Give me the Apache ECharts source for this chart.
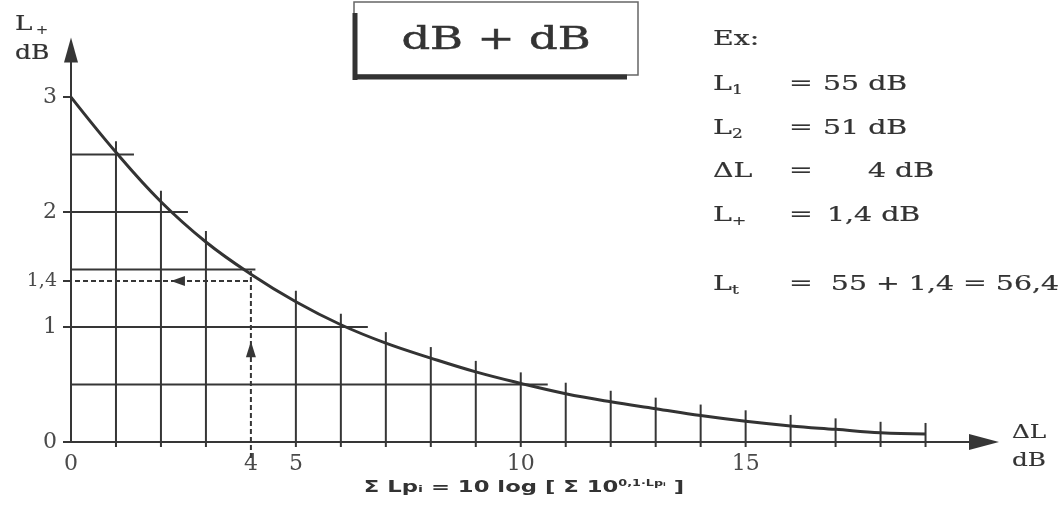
<!DOCTYPE html>
<html><head><meta charset="utf-8">
<script src="https://cdn.jsdelivr.net/npm/echarts@6/dist/echarts.min.js"></script>
<style>html,body{margin:0;padding:0;background:#fff}#c{width:1058px;height:528px}</style>
</head><body><div id="c"></div>
<script>
// ---- data ----
const deltaL = [0,1,2,3,4,5,6,7,8,9,10,11,12,13,14,15,16,17,18,19];
const lPlus  = [3.00,2.52,2.09,1.74,1.46,1.22,1.02,0.86,0.73,0.61,0.51,0.42,0.35,0.29,0.23,0.18,0.14,0.11,0.08,0.07];
const xTickValues = [0,4,5,10,15];
const yTickValues = [0,1,1.4,2,3];
const hGridLevels = [0.5,1,1.5,2,2.5];
const hGridEnds   = [10.6,6.6,4.1,2.6,1.4];
const exL1 = 55;
const exL2 = 51;
const exDeltaL = 4;
const exLPlus = 1.4;

// ---- styling ----
const INK = '#363636';
const TXT = '#333';
const SERIF = "'DejaVu Serif', serif";
const fmt = v => String(v).replace('.', ',');

const chart = echarts.init(document.getElementById('c'));

const curveData = deltaL.map((x, i) => [x, lPlus[i]]);
const vGridData = curveData.filter(d => d[0] > 0 && d[0] !== exDeltaL);
const hGridData = hGridLevels.map((y, i) => [hGridEnds[i], y]);

function vRender(params, api) {
  const x = api.value(0), y = api.value(1);
  const p0 = api.coord([x, 0]), p1 = api.coord([x, y]);
  return {type: 'line', shape: {x1: p0[0], y1: p0[1] + 5, x2: p1[0], y2: p1[1] - 11},
    style: {stroke: INK, lineWidth: 2}};
}
function hRender(params, api) {
  const xe = api.value(0), y = api.value(1);
  const p0 = api.coord([0, y]), p1 = api.coord([xe, y]);
  return {type: 'line', shape: {x1: p0[0], y1: p0[1], x2: p1[0], y2: p1[1]},
    style: {stroke: INK, lineWidth: 2}};
}
function exRender(params, api) {
  const x = api.value(0), y = api.value(1);
  const o = api.coord([0, 0]);
  const p = api.coord([x, y]);
  const ax = o[0] + (p[0] - o[0]) * 0.6;   // left arrow on horizontal dashed line
  const ay = o[1] + (p[1] - o[1]) * 0.57;  // up arrow on vertical dashed line
  const dash = {stroke: INK, lineWidth: 2, lineDash: [5, 3]};
  return {type: 'group', children: [
    {type: 'line', shape: {x1: o[0] - 4, y1: p[1], x2: p[0], y2: p[1]}, style: dash},
    {type: 'line', shape: {x1: p[0], y1: o[1] + 16, x2: p[0], y2: p[1] - 10}, style: dash},
    {type: 'polygon', shape: {points: [[ax - 8, p[1]], [ax + 6, p[1] - 5], [ax + 6, p[1] + 5]]}, style: {fill: INK}},
    {type: 'polygon', shape: {points: [[p[0], ay - 9], [p[0] - 5, ay + 7], [p[0] + 5, ay + 7]]}, style: {fill: INK}}
  ]};
}

function T(x, y, text, size, opts) {
  opts = opts || {};
  return {type: 'text', x: x, y: y, scaleX: opts.sx || 1.42, z: 100,
    style: {text: text, font: (opts.bold ? 'bold ' : '') + size + 'px ' + (opts.family || SERIF),
      fill: opts.fill || TXT, textAlign: opts.align || 'left', textVerticalAlign: 'middle',
      align: opts.align || 'left', verticalAlign: 'middle',
      stroke: opts.fill || TXT, lineWidth: opts.lw == null ? 0.2 : opts.lw}};
}
function Lsub(x, y, sub) {
  return [T(x, y, 'L', 20), T(x + 19, y + 6, sub, 12)];
}

const rows = [
  {y: 85,  lab: Lsub(713, 85, '1'),  val: exL1 + ' dB', vx: 823},
  {y: 129, lab: Lsub(713, 129, '2'), val: exL2 + ' dB', vx: 823},
  {y: 172, lab: [T(713, 172, 'ΔL', 20)], val: (exL1 - exL2) + ' dB', vx: 868},
  {y: 216, lab: Lsub(713, 216, '+'), val: fmt(exLPlus) + ' dB', vx: 827}
];
const textEls = [T(713, 40, 'Ex:', 20)];
rows.forEach(r => {
  textEls.push(...r.lab);
  textEls.push(T(789, r.y, '=', 20));
  textEls.push(T(r.vx, r.y, r.val, 20));
});
textEls.push(...Lsub(713, 285, 't'));
textEls.push(T(789, 285, '=  ' + exL1 + ' + ' + fmt(exLPlus) + ' = ' + fmt(+(exL1 + exLPlus).toFixed(1)), 20));

const graphicEls = [
  // title box
  {type: 'rect', shape: {x: 354, y: 2, width: 284, height: 73}, style: {fill: '#fff', stroke: '#666', lineWidth: 1.5}, z: 90},
  {type: 'line', shape: {x1: 355, y1: 13, x2: 355, y2: 80}, style: {stroke: '#333', lineWidth: 5}, z: 91},
  {type: 'line', shape: {x1: 353, y1: 77, x2: 627, y2: 77}, style: {stroke: '#333', lineWidth: 5}, z: 91},
  T(496, 41, 'dB + dB', 32, {align: 'center', sx: 1.4, lw: 0.5}),
  // axis names
  T(15, 25, 'L', 21, {sx: 1.25}), T(36, 31, '+', 12, {sx: 1.2}),
  T(15, 54, 'dB', 20, {sx: 1.25}),
  T(1012, 433, 'ΔL', 19, {sx: 1.3}),
  T(1012, 461, 'dB', 19, {sx: 1.3}),
  // formula
  {type: 'text', x: 524, y: 488, scaleX: 1.42, z: 100,
    style: {text: '{a|Σ Lpᵢ = 10 log [ Σ 10}{s|0,1·Lpᵢ}{a| ]}', textAlign: 'center', textVerticalAlign: 'middle',
      align: 'center', verticalAlign: 'middle', fill: TXT,
      rich: {a: {font: "bold 16px 'DejaVu Sans'", fill: TXT, height: 22},
             s: {font: "bold 9px 'DejaVu Sans'", fill: TXT, verticalAlign: 'top', height: 22, padding: [0, 0, 9, 0]}}}},
  ...textEls
];

chart.setOption({
  animation: false,
  backgroundColor: '#fff',
  grid: {left: 71, right: 74, top: 50, bottom: 86},
  xAxis: {
    type: 'value', min: 0, max: 20.3,
    axisLine: {show: true, onZero: false, symbol: ['none', 'triangle'], symbolSize: [16, 30], lineStyle: {color: INK, width: 2}},
    axisTick: {show: false},
    splitLine: {show: false},
    axisLabel: {customValues: xTickValues, margin: 11, fontFamily: SERIF, fontSize: 22, color: '#4a4a4a'}
  },
  yAxis: {
    type: 'value', min: 0, max: 3.41,
    axisLine: {show: true, onZero: false, symbol: ['none', 'triangle'], symbolSize: [14, 25], lineStyle: {color: INK, width: 2}},
    axisTick: {show: true, customValues: yTickValues, length: 8, lineStyle: {color: INK, width: 2}},
    splitLine: {show: false},
    axisLabel: {customValues: yTickValues, margin: 14, fontFamily: SERIF, fontSize: 22, color: '#4a4a4a',
      formatter: v => (Math.abs(v - exLPlus) < 1e-6 ? '{s|' + fmt(exLPlus) + '}' : fmt(v)),
      rich: {s: {fontFamily: SERIF, fontSize: 19, color: '#4a4a4a'}}}
  },
  series: [
    {type: 'custom', renderItem: hRender, data: hGridData, z: 2, silent: true},
    {type: 'custom', renderItem: vRender, data: vGridData, z: 2, silent: true},
    {type: 'custom', renderItem: exRender, data: [[exDeltaL, exLPlus]], z: 3, silent: true},
    {type: 'line', data: curveData, smooth: 0.4, showSymbol: false, z: 5,
      lineStyle: {color: '#333', width: 3}}
  ],
  graphic: {elements: graphicEls}
});
</script></body></html>
